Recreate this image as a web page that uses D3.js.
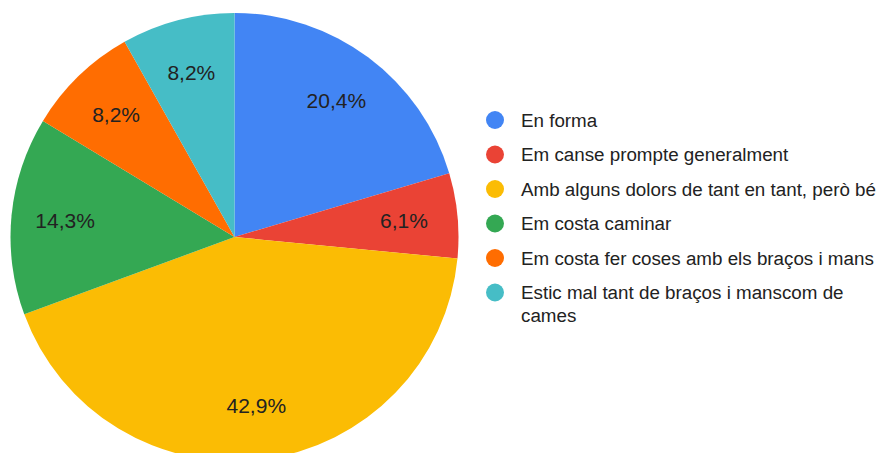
<!DOCTYPE html>
<html>
<head>
<meta charset="utf-8">
<script src="https://cdn.jsdelivr.net/npm/d3@7"></script>
<style>
  html, body { margin: 0; padding: 0; background: #fff; }
  svg { display: block; font-family: "Liberation Sans", Arial, sans-serif; }
</style>
</head>
<body>
<div id="chart"></div>
<script>
// answers to the survey (49 replies)
var categories = [
  'En forma',
  'Em canse prompte generalment',
  'Amb alguns dolors de tant en tant, però bé',
  'Em costa caminar',
  'Em costa fer coses amb els braços i mans',
  'Estic mal tant de braços i manscom de cames'
];
var counts = [10, 3, 21, 7, 4, 4];
var colors = ['#4285f4', '#ea4335', '#fbbc04', '#34a853', '#ff6d01', '#46bdc6'];

var width = 889, height = 453,
  cx = 234.5, cy = 237, radius = 224;

var svg = d3.select('#chart').append('svg')
  .attr('width', width)
  .attr('height', height);

var total = d3.sum(counts);
var fmt = function (v) {
  return (v / total * 100).toFixed(1).replace('.', ',') + '%';
};

var pie = d3.pie().sort(null).value(function (d) { return d; });
var arcs = pie(counts);

var arc = d3.arc().innerRadius(0).outerRadius(radius);
var labelArc = d3.arc().innerRadius(radius * 0.76).outerRadius(radius * 0.76);

var g = svg.append('g').attr('transform', 'translate(' + cx + ',' + cy + ')');

g.selectAll('path.slice')
  .data(arcs)
  .enter().append('path')
  .attr('class', 'slice')
  .attr('d', arc)
  .attr('fill', function (d, i) { return colors[i]; });

g.selectAll('text.lbl')
  .data(arcs)
  .enter().append('text')
  .attr('class', 'lbl')
  .attr('transform', function (d) { return 'translate(' + labelArc.centroid(d) + ')'; })
  .attr('text-anchor', 'middle')
  .attr('dy', '0.36em')
  .attr('font-size', '21px')
  .attr('fill', '#222')
  .text(function (d) { return fmt(d.value); });

// legend
var legendX = 495, legendY = 120, rowH = 34.5;
var lg = svg.append('g');

var rows = lg.selectAll('g.row')
  .data(categories)
  .enter().append('g')
  .attr('class', 'row')
  .attr('transform', function (d, i) { return 'translate(' + legendX + ',' + (legendY + i * rowH) + ')'; });

rows.append('circle')
  .attr('r', 9)
  .attr('fill', function (d, i) { return colors[i]; });

rows.append('text')
  .attr('x', 26)
  .attr('dy', '0.36em')
  .attr('font-size', '18.8px')
  .attr('fill', '#222')
  .each(function (d, i) {
    var t = d3.select(this);
    // last label wraps onto two lines
    if (i === categories.length - 1) {
      t.append('tspan').attr('x', 26).text('Estic mal tant de braços i manscom de');
      t.append('tspan').attr('x', 26).attr('dy', '1.2em').text('cames');
    } else {
      t.text(d);
    }
  });
</script>
</body>
</html>
